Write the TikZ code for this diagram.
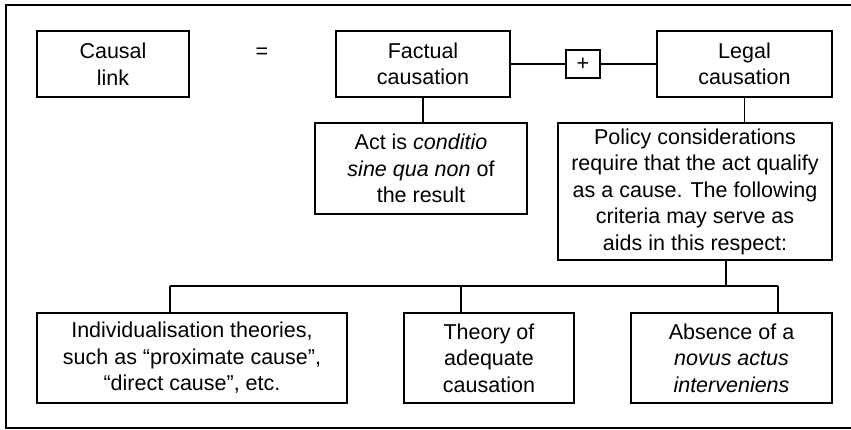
\documentclass[tikz,border=0pt]{standalone}
\usepackage{fontspec}
\setmainfont{Liberation Sans}
\usetikzlibrary{positioning, calc}

\tikzset{
    box/.style={draw=black, line width=1.8pt, align=center, inner sep=0pt,
        font=\fontsize{21.5}{26.5}\selectfont},
    wire/.style={black, line width=1.8pt}
}

\begin{document}
\begin{tikzpicture}[x=1pt, y=-1pt]
    \useasboundingbox (0,0) rectangle (851,430);

    % border (right side cut off)
    \draw[wire] (852,5) -- (6,5) -- (6,428) -- (852,428);

    % top row
    \node[box, minimum width=152, minimum height=66] (causal) at (113,64) {Causal\\link};
    \node[font=\fontsize{21.5}{26.5}\selectfont] (equals) at (262,53) {=};
    \node[box, minimum width=174, minimum height=66] (factual) at (423,64) {Factual\\causation};
    \node[box, minimum width=34, minimum height=28, line width=1.6pt] (plus) at (583,64) {+};
    \node[box, minimum width=175, minimum height=66] (legal) at (744.5,64) {Legal\\causation};

    % second row
    \node[box, minimum width=212, minimum height=91] (act) at (421,168.5)
        {Act is \textit{conditio}\\\textit{sine qua non} of\\the result};
    \node[box, minimum width=274, minimum height=137] (policy) at (695,191.5)
        {Policy considerations\\require that the act qualify\\as a cause. The following\\criteria may serve as\\aids in this respect:};

    % criteria
    \node[box, minimum width=310, minimum height=90] (crit1) at (192,358)
        {Individualisation theories,\\such as “proximate cause”,\\“direct cause”, etc.};
    \node[box, minimum width=170, minimum height=90] (crit2) at (489,358)
        {Theory of\\adequate\\causation};
    \node[box, minimum width=201, minimum height=90] (crit3) at (731.5,358)
        {Absence of a\\\textit{novus actus}\\\textit{interveniens}};

    % tree coordinates
    \coordinate (root) at (726,286);
    \coordinate (t1) at (170,286);
    \coordinate (t2) at (461,286);
    \coordinate (t3) at (778,286);

    % connectors
    \draw[wire] (factual.east) -- (plus.west);
    \draw[wire] (plus.east) -- (legal.west);
    \draw[wire] (factual.south) -- (factual.south |- act.north);
    \draw[wire] (legal.south) -- (legal.south |- policy.north);
    \draw[wire] (root |- policy.south) -- (root);
    \draw[wire] (t1) -- (t3);

    \foreach \t/\b in {t1/crit1, t2/crit2, t3/crit3}
    {
        \draw[wire] (\t) -- (\t |- \b.north);
    }
\end{tikzpicture}
\end{document}
